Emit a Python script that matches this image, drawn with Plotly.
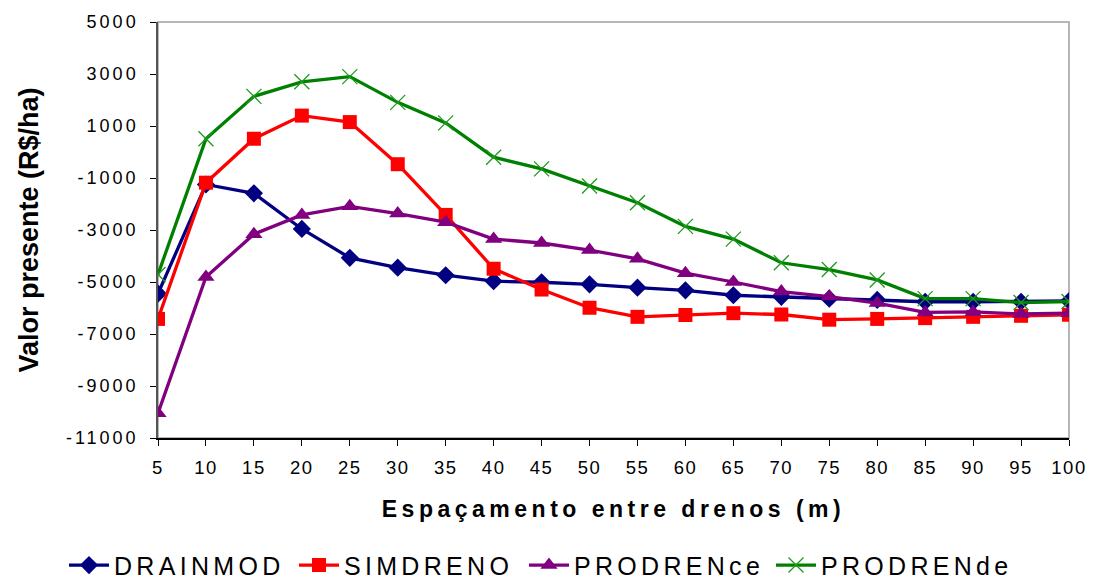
import plotly.graph_objects as go

# Drain spacing (m)
espacamento = [5, 10, 15, 20, 25, 30, 35, 40, 45, 50,
               55, 60, 65, 70, 75, 80, 85, 90, 95, 100]

# Present value (R$/ha) per model
drainmod = [-5450, -1250, -1590, -2960, -4070, -4450, -4740, -4970, -5010, -5090,
            -5220, -5320, -5510, -5570, -5640, -5690, -5760, -5760, -5760, -5730]
simdreno = [-6420, -1180, 510, 1400, 1150, -470, -2420, -4490, -5290, -5990,
            -6340, -6270, -6200, -6250, -6450, -6420, -6390, -6340, -6300, -6260]
prodrence = [-10050, -4810, -3160, -2420, -2090, -2370, -2700, -3350, -3500, -3770,
             -4110, -4660, -5000, -5370, -5560, -5810, -6170, -6150, -6230, -6200]
prodrende = [-4710, 510, 2140, 2700, 2900, 1910, 1120, -200, -650, -1310,
             -1950, -2860, -3350, -4260, -4520, -4920, -5640, -5640, -5790, -5750]

y_ticks = [5000, 3000, 1000, -1000, -3000, -5000, -7000, -9000, -11000]

series = [
    ("DRAINMOD", drainmod, "#000080", dict(symbol="diamond", size=14)),
    ("SIMDRENO", simdreno, "#FF0000", dict(symbol="square", size=14)),
    ("PRODRENce", prodrence, "#800080", dict(symbol="triangle-up", size=15)),
    ("PRODRENde", prodrende, "#008000",
     dict(symbol="x-thin", size=15, line=dict(width=1.3, color="#1f9a1f"))),
]

font_family = "Liberation Sans, Arial, sans-serif"

# One legend box per series so each entry sits at its own left offset (px)
legend_left = [64, 294, 524, 771]
legend_ids = ["legend", "legend2", "legend3", "legend4"]

fig = go.Figure()
for (name, values, color, marker), lid in zip(series, legend_ids):
    fig.add_trace(go.Scatter(
        x=espacamento, y=values, name=name, mode="lines+markers",
        line=dict(color=color, width=3.3),
        marker=dict(color=color, **marker),
        legend=lid,
    ))

legend_layout = {}
for lid, left in zip(legend_ids, legend_left):
    legend_layout[lid] = dict(
        orientation="h", xref="container", yref="container",
        x=left / 1096, y=0.027, xanchor="left", yanchor="middle",
        font=dict(size=25, family=font_family, color="black"),
        entrywidth=215, entrywidthmode="pixels",
        itemwidth=40, bgcolor="rgba(0,0,0,0)",
    )

fig.update_layout(
    width=1096, height=581,
    margin=dict(l=158, r=27, t=19, b=143),
    plot_bgcolor="white", paper_bgcolor="white",
    font=dict(family=font_family, color="black"),
    showlegend=True,
    **legend_layout,
    xaxis=dict(
        range=[5, 100], tickmode="array", tickvals=espacamento,
        ticktext=[str(v) for v in espacamento],
        showgrid=False, zeroline=False,
        showline=True, linecolor="black", linewidth=1.5,
        ticks="outside", ticklen=6, tickwidth=1, tickcolor="black",
        tickfont=dict(size=18.5, family=font_family, color="black"),
        ticklabelstandoff=6,
        title=dict(text="<b>Espaçamento entre drenos (m)</b>", standoff=24,
                   font=dict(size=23, family=font_family, color="black")),
    ),
    yaxis=dict(
        range=[-11000, 5000], tickmode="array", tickvals=y_ticks,
        ticktext=[str(v) for v in y_ticks],
        showgrid=False, zeroline=False,
        showline=True, linecolor="#555555", linewidth=1.5,
        ticks="outside", ticklen=6, tickwidth=1, tickcolor="black",
        tickfont=dict(size=18, family=font_family, color="black"),
        ticklabelstandoff=8,
        title=dict(text="<b>Valor presente (R$/ha)</b>", standoff=37,
                   font=dict(size=27, family=font_family, color="black")),
    ),
    shapes=[dict(type="rect", xref="paper", yref="paper", x0=0, x1=1, y0=0, y1=1,
                 line=dict(color="#a0a0a0", width=1.5), layer="below")],
)

# Widen the character spacing of axis labels, titles and legend entries
spacing_js = """
var css = document.createElement('style');
css.textContent =
  '.js-plotly-plot .xtick text { letter-spacing: 1.5px; }' +
  '.js-plotly-plot .ytick text { letter-spacing: 3px; }' +
  '.js-plotly-plot .g-xtitle text { letter-spacing: 4.5px; }' +
  '.js-plotly-plot .infolayer .traces text,' +
  '.js-plotly-plot .infolayer .legendtext,' +
  '.js-plotly-plot .infolayer [class*="legend"] text { letter-spacing: 4.3px !important; }';
document.head.appendChild(css);
"""

fig.write_html("out.html", post_script=spacing_js)
